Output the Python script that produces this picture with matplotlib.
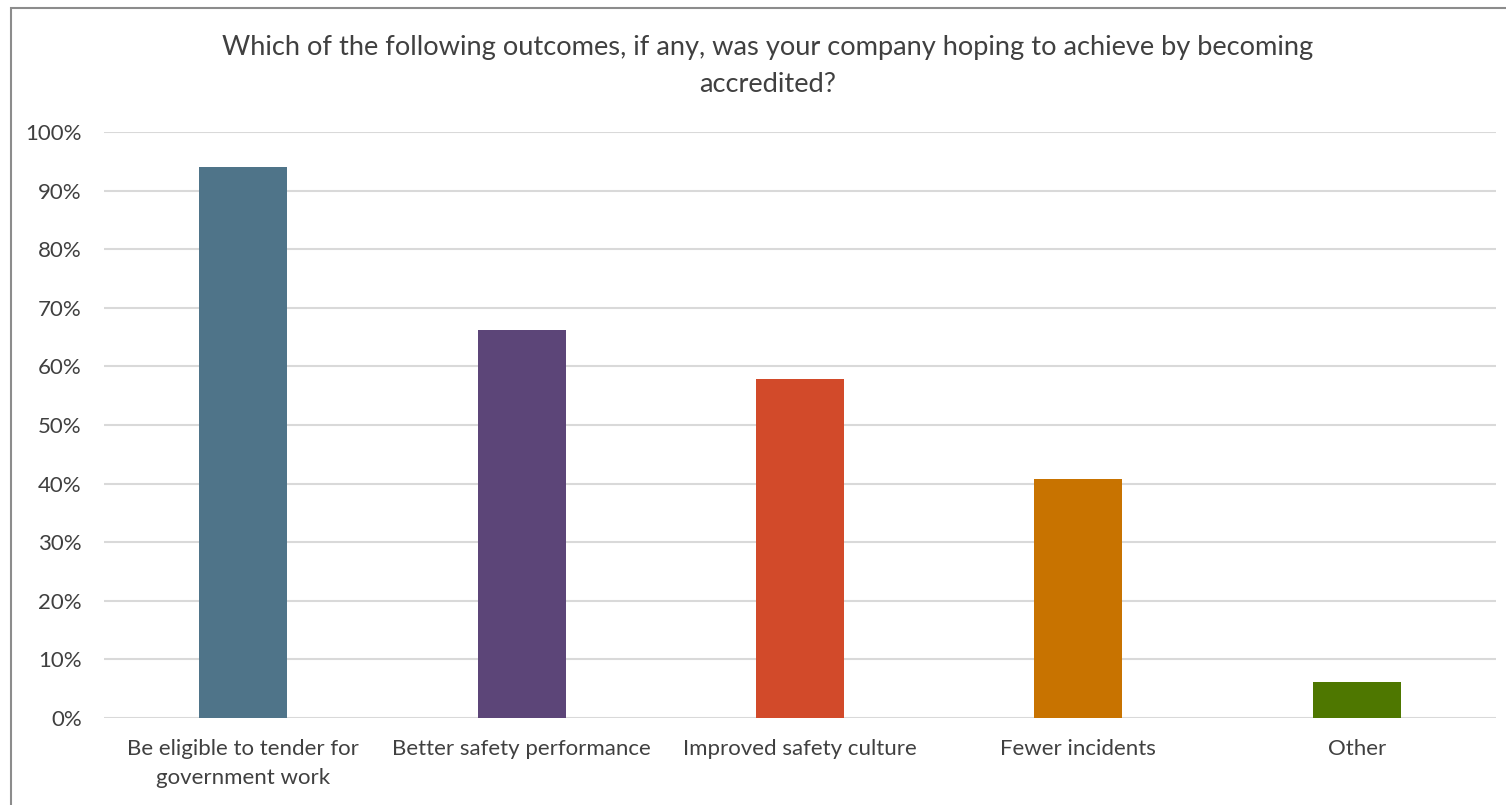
import matplotlib.pyplot as plt
from matplotlib.patches import Rectangle
from matplotlib.ticker import PercentFormatter

categories = ['Be eligible to tender for\ngovernment work', 'Better safety performance',
              'Improved safety culture', 'Fewer incidents', 'Other']
values = [94.0, 66.2, 57.9, 40.7, 6.1]
colors = ['#4F7489', '#5C4578', '#D24A2A', '#C87300', '#4E7700']
title = 'Which of the following outcomes, if any, was your company hoping to achieve by becoming\naccredited?'

plt.rcParams['font.family'] = ['Lato', 'DejaVu Sans']

W, H = 1506, 805
fig = plt.figure(figsize=(W / 100, H / 100), dpi=100)
ax = fig.add_axes([104 / W, 1 - 718 / H, (1496 - 104) / W, (718 - 132) / H])

x = range(len(categories))
ax.bar(x, values, width=88 / 278.4, color=colors, zorder=3)

ax.set_xlim(-0.5, len(categories) - 0.5)
ax.set_ylim(0, 100)
ax.set_yticks(range(0, 101, 10))
ax.yaxis.set_major_formatter(PercentFormatter(decimals=0))
ax.set_xticks(list(x))
ax.set_xticklabels(categories, linespacing=1.55)
ax.grid(axis='y', color='#D9D9D9', linewidth=1.5, zorder=0)
for s in ax.spines.values():
    s.set_visible(False)
ax.tick_params(axis='both', length=0, labelsize=16, colors='#404040')
ax.tick_params(axis='x', pad=15)
ax.tick_params(axis='y', pad=16)

fig.text(768 / W, 1 - 66 / H, title, ha='center', va='center', fontsize=19.6,
         color='#404040', linespacing=1.55)

# chart frame (only left and top edges fall inside the image)
fig.patches.append(Rectangle((11 / W, -0.1), 1.2, 1 - 8 / H + 0.1, transform=fig.transFigure,
                             fill=False, edgecolor='#8C8C8C', linewidth=1.5))

fig.savefig('out.png', dpi=100)
